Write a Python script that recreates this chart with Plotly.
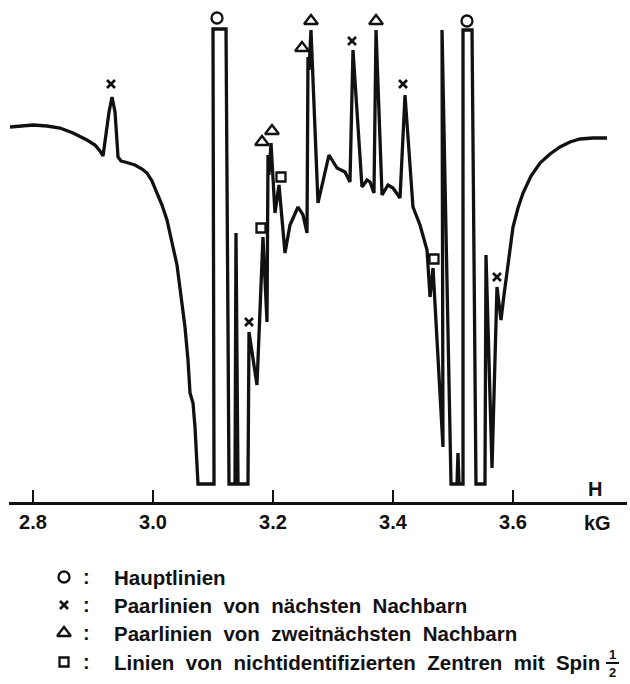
import plotly.graph_objects as go

# ---------------- data ----------------
# magnetic field H in kG and signal amplitude (arbitrary units, 0 = bottom of trace)
field_kG = [2.7617, 2.7783, 2.8000, 2.8233, 2.8450, 2.8667, 2.8900, 2.9033, 2.9117, 2.9167,
            2.9267, 2.9317, 2.9367, 2.9417, 2.9467, 2.9533, 2.9700, 2.9817, 2.9900, 2.9983,
            3.0067, 3.0150, 3.0233, 3.0283, 3.0333, 3.0400, 3.0450, 3.0500, 3.0533, 3.0583,
            3.0617, 3.0667, 3.0700, 3.0750, 3.1017, 3.1000, 3.1217, 3.1267, 3.1367, 3.1383,
            3.1417, 3.1583, 3.1600, 3.1733, 3.1833, 3.1900, 3.1917, 3.1933, 3.1967, 3.2033,
            3.2100, 3.2200, 3.2283, 3.2417, 3.2500, 3.2567, 3.2583, 3.2600, 3.2633, 3.2750,
            3.2933, 3.3067, 3.3200, 3.3283, 3.3333, 3.3483, 3.3567, 3.3617, 3.3683, 3.3717,
            3.3817, 3.3917, 3.4000, 3.4117, 3.4200, 3.4333, 3.4450, 3.4567, 3.4617, 3.4667,
            3.4833, 3.4817, 3.4967, 3.5067, 3.5083, 3.5100, 3.5167, 3.5167, 3.5317, 3.5383,
            3.5533, 3.5550, 3.5650, 3.5733, 3.5800, 3.5850, 3.5900, 3.5950, 3.6000, 3.6083,
            3.6167, 3.6300, 3.6450, 3.6617, 3.6783, 3.6950, 3.7117, 3.7333, 3.7567]
signal = [357, 358, 359, 358, 356, 351, 344, 339, 333, 328,
          372, 387, 372, 327, 323, 322, 319, 315, 311, 303,
          291, 279, 264, 252, 237, 219, 197, 177, 157, 124,
          91, 81, 57, 0, 0, 455, 455, 0, 0, 251,
          0, 0, 152, 99, 247, 162, 329, 309, 341, 271,
          299, 231, 259, 277, 269, 251, 427, 414, 454, 281,
          329, 316, 312, 302, 434, 297, 304, 302, 291, 454,
          289, 299, 296, 286, 389, 277, 259, 234, 187, 216,
          37, 454, 0, 0, 31, 0, 0, 454, 454, 0,
          0, 229, 16, 197, 164, 189, 211, 236, 257, 276,
          291, 308, 321, 330, 337, 342, 345, 346, 346]

# line identifications
haupt_x, haupt_y = [3.1067, 3.5233], [466, 463]
naechste_x, naechste_y = [2.9300, 3.1600, 3.3317, 3.4167, 3.5733], [400, 162, 443, 400, 207]
zweit_x, zweit_y = [3.1817, 3.1983, 3.2483, 3.2633, 3.3717], [342, 353, 436, 463, 463]
spin_x, spin_y = [3.1800, 3.2133, 3.4683], [256, 307, 225]

tick_vals = [2.8, 3.0, 3.2, 3.4, 3.6]
tick_text = ["2.8", "3.0", "3.2", "3.4", "3.6"]

legend_labels = ["Hauptlinien",
                 "Paarlinien von nächsten Nachbarn",
                 "Paarlinien von zweitnächsten Nachbarn",
                 "Linien von nichtidentifizierten Zentren mit Spin"]

# ---------------- layout constants (pixels) ----------------
W, H = 630, 684
ML, MR = 9, 3
AXIS_PY = 502                     # pixel row of the H axis
X0, X1 = 2.76, 3.79
Y0, Y1 = -18, 484
INK = "#111111"
FONT = "Liberation Sans"
LEG_ROWS = [577, 605, 633, 662]
SYM_PX, COLON_PX, TEXT_PX = 64, 86, 112


def paper_x(px):
    return (px - ML) / (W - ML - MR)


def paper_y(py):
    return 1 - py / H


def font(size):
    return dict(family=FONT, size=size, color=INK, weight="bold")


fig = go.Figure()

fig.add_trace(go.Scatter(x=field_kG, y=signal, mode="lines",
                         line=dict(color=INK, width=3.3), showlegend=False,
                         cliponaxis=False, hoverinfo="skip"))

marker_styles = [
    (haupt_x, haupt_y, "circle-open", 11, 2.3),
    (naechste_x, naechste_y, "x-thin-open", 8, 2.7),
    (zweit_x, zweit_y, "triangle-up-open", 12, 2.3),
    (spin_x, spin_y, "square-open", 9, 2.3),
]
for xs, ys, sym, size, lw in marker_styles:
    fig.add_trace(go.Scatter(x=xs, y=ys, mode="markers", showlegend=False,
                             cliponaxis=False, hoverinfo="skip",
                             marker=dict(symbol=sym, size=size, color=INK,
                                         line=dict(color=INK, width=lw))))

# legend key symbols, on a helper pixel-scaled axis pair below the H axis
for (xs, ys, sym, size, lw), row in zip(marker_styles, LEG_ROWS):
    fig.add_trace(go.Scatter(x=[SYM_PX], y=[row], xaxis="x2", yaxis="y2",
                             mode="markers", showlegend=False, cliponaxis=False,
                             hoverinfo="skip",
                             marker=dict(symbol=sym, size=size, color=INK,
                                         line=dict(color=INK, width=lw))))

annotations = []
for label, row in zip(legend_labels, LEG_ROWS):
    annotations.append(dict(x=paper_x(COLON_PX), y=paper_y(row), xref="paper", yref="paper",
                            text=":", showarrow=False, xanchor="center", yanchor="middle",
                            font=font(20)))
    annotations.append(dict(x=paper_x(TEXT_PX), y=paper_y(row), xref="paper", yref="paper",
                            text=label.replace(" ", "\u00a0\u00a0"), showarrow=False,
                            xanchor="left", yanchor="middle", font=font(20.5)))

# fraction 1/2 after "Spin"
annotations.append(dict(x=paper_x(612), y=paper_y(654), xref="paper", yref="paper", text="1",
                        showarrow=False, xanchor="center", yanchor="middle", font=font(13)))
annotations.append(dict(x=paper_x(612), y=paper_y(672), xref="paper", yref="paper", text="2",
                        showarrow=False, xanchor="center", yanchor="middle", font=font(13)))

# axis labels
annotations.append(dict(x=paper_x(595), y=paper_y(489), xref="paper", yref="paper", text="H",
                        showarrow=False, xanchor="center", yanchor="middle", font=font(20)))
annotations.append(dict(x=paper_x(597), y=paper_y(523), xref="paper", yref="paper", text="kG",
                        showarrow=False, xanchor="center", yanchor="middle", font=font(20)))

# arrow head at the end of the H axis
annotations.append(dict(x=X1 + 0.002, y=Y0, xref="x", yref="y", ax=-14, ay=0,
                        text="", showarrow=True,
                        arrowhead=2, arrowsize=1.1, arrowwidth=3, arrowcolor=INK))

shapes = [dict(type="line", xref="paper", yref="paper",
               x0=paper_x(606), x1=paper_x(619), y0=paper_y(663), y1=paper_y(663),
               line=dict(color=INK, width=2))]

fig.update_layout(
    width=W, height=H,
    margin=dict(l=ML, r=MR, t=0, b=0, pad=0),
    paper_bgcolor="white", plot_bgcolor="white",
    showlegend=False,
    annotations=annotations, shapes=shapes,
    xaxis=dict(range=[X0, X1], showgrid=False, zeroline=False, showline=True,
               linecolor=INK, linewidth=3, ticks="inside", ticklen=12, tickwidth=2.5,
               tickcolor=INK, tickvals=tick_vals, ticktext=tick_text,
               tickfont=font(20), fixedrange=True, anchor="y"),
    yaxis=dict(range=[Y0, Y1], visible=False, fixedrange=True,
               domain=[1 - AXIS_PY / H, 1]),
    xaxis2=dict(range=[ML, W - MR], visible=False, fixedrange=True, anchor="y2"),
    yaxis2=dict(range=[H, AXIS_PY], visible=False, fixedrange=True,
                domain=[0, 1 - AXIS_PY / H], anchor="x2"),
)

fig.write_html("out.html",
               config={"displayModeBar": False, "staticPlot": True},
               post_script="document.body.style.margin='0';"
                           "document.body.style.overflow='hidden';")
